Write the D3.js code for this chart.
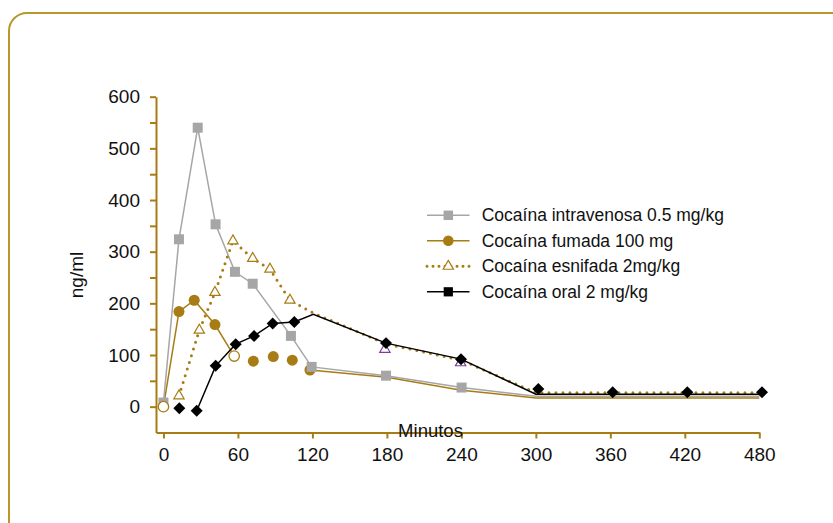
<!DOCTYPE html>
<html>
<head>
<meta charset="utf-8">
<script src="https://cdn.jsdelivr.net/npm/d3@7"></script>
<style>
  html, body { margin: 0; padding: 0; background: #fff; }
  svg { display: block; font-family: "Liberation Sans", Arial, Helvetica, sans-serif; }
</style>
</head>
<body>
<svg id="chart" width="833" height="523"></svg>
<script>
// ---------- DATA ----------
const xTicks = [0, 60, 120, 180, 240, 300, 360, 420, 480];
const yTicks = [0, 50, 100, 150, 200, 250, 300, 350, 400, 450, 500, 550, 600];
const yLabels = [0, 100, 200, 300, 400, 500, 600];

const seriesNames = [
  "Cocaína intravenosa 0.5 mg/kg",
  "Cocaína fumada 100 mg",
  "Cocaína esnifada 2mg/kg",
  "Cocaína oral 2 mg/kg"
];

// Intravenosa (gray squares)
const ivTime   = [0, 12.5, 27.6, 42, 57.6, 71.9, 102.7, 119.4, 179.3, 240.2];
const ivValue  = [8, 324, 540, 353, 261, 238, 137, 77, 60, 37];
const ivLineTime  = [0, 12.5, 27.6, 42, 57.6, 71.9, 102.7, 119.4, 179.3, 240.2, 300, 480];
const ivLineValue = [8, 324, 540, 353, 261, 238, 137, 77, 60, 37, 20, 20];

// Fumada (gold circles)
const fuTime   = [0, 12.5, 24.8, 41.5, 57, 72.4, 88.5, 103.8, 118];
const fuValue  = [0, 184, 206, 159, 98, 88, 97, 90, 71];
const fuHollow = [true, false, false, false, true, false, false, false, false];
const fuLine1Time  = [0, 12.5, 24.8, 41.5, 57];
const fuLine1Value = [0, 184, 206, 159, 98];
const fuLine2Time  = [118, 180, 240, 300, 480];
const fuLine2Value = [71, 57, 32, 17, 17];

// Esnifada (gold open triangles, dotted)
const esTime   = [12.5, 28.9, 41.5, 56, 71.9, 85.8, 101.9, 178.4, 239.4];
const esValue  = [21, 148, 221, 321, 287, 266, 206, 111, 85];
const esPurple = [false, false, false, false, false, false, false, true, true];
const esLineTime  = [12.5, 28.9, 41.5, 56, 71.9, 85.8, 101.9, 120, 180, 240, 300, 480];
const esLineValue = [21, 148, 221, 321, 287, 266, 206, 182, 121, 90, 27, 27];

// Oral (black diamonds)
const orTime   = [12.8, 26.8, 42.1, 58.2, 73, 88, 105.4, 179.3, 239.7, 302, 361.9, 422, 482.2];
const orValue  = [-3, -8, 79, 121, 137, 161, 164, 123, 92, 34, 28, 28, 28];
const orLineTime  = [26.8, 42.1, 58.2, 73, 88, 105.4, 120.7, 179.3, 239.7, 300, 480];
const orLineValue = [-8, 79, 121, 137, 161, 164, 179, 123, 92, 24, 24];

// ---------- STYLE ----------
const GOLD = "#A87C14";
const FRAME = "#B8972F";
const GRAY = "#A6A6A6";
const PURPLE = "#7A3E9D";
const TXT = "#111";

const svg = d3.select("#chart");

// Frame: top and left with rounded corner
svg.append("path")
  .attr("d", "M9,523 L9,31 A18,18 0 0 1 27,13 L833,13")
  .attr("fill", "none").attr("stroke", FRAME).attr("stroke-width", 2);

const x = d3.scaleLinear().domain([-6, 480]).range([156, 759.3]);
const y = d3.scaleLinear().domain([-50, 600]).range([432.5, 96.7]);

// Axes
const yAxis = d3.axisLeft(y).tickValues(yTicks).tickSize(6).tickSizeOuter(0).tickPadding(10)
  .tickFormat(d => yLabels.includes(d) ? String(d) : "");
const xAxis = d3.axisBottom(x).tickValues(xTicks).tickSize(6).tickSizeOuter(0).tickPadding(9)
  .tickFormat(d => String(d));

const gy = svg.append("g").attr("transform", `translate(${x(-6)},0)`).call(yAxis);
const gx = svg.append("g").attr("transform", `translate(0,${y(-50)})`).call(xAxis);
[gx, gy].forEach(g => {
  g.select(".domain").attr("stroke", GOLD).attr("stroke-width", 2);
  g.selectAll(".tick line").attr("stroke", GOLD).attr("stroke-width", 2);
  g.selectAll(".tick text").attr("fill", TXT).style("font-size", "19px")
    .style("font-family", '"Liberation Sans", Arial, Helvetica, sans-serif');
});

// Axis titles
svg.append("text").attr("x", 430.5).attr("y", 437).attr("text-anchor", "middle")
  .attr("fill", TXT).style("font-size", "18.5px").text("Minutos");
svg.append("text").attr("transform", "translate(83,275) rotate(-90)").attr("text-anchor", "middle")
  .attr("fill", TXT).style("font-size", "19px").text("ng/ml");

// Lines
const line = d3.line().x(d => x(d[0])).y(d => y(d[1]));
const zip = (a, b) => a.map((t, i) => [t, b[i]]);

svg.append("path").attr("d", line(zip(fuLine1Time, fuLine1Value)))
  .attr("fill", "none").attr("stroke", GOLD).attr("stroke-width", 1.5);
svg.append("path").attr("d", line(zip(fuLine2Time, fuLine2Value)))
  .attr("fill", "none").attr("stroke", GOLD).attr("stroke-width", 1.5);
svg.append("path").attr("d", line(zip(ivLineTime, ivLineValue)))
  .attr("fill", "none").attr("stroke", GRAY).attr("stroke-width", 1.5);
svg.append("path").attr("d", line(zip(esLineTime, esLineValue)))
  .attr("fill", "none").attr("stroke", GOLD).attr("stroke-width", 3)
  .attr("stroke-dasharray", "0 7").attr("stroke-linecap", "round");
svg.append("path").attr("d", line(zip(orLineTime, orLineValue)))
  .attr("fill", "none").attr("stroke", "#000").attr("stroke-width", 1.5);

// Markers
const sq = d3.symbol().type(d3.symbolSquare).size(100);
const tri = d3.symbol().type(d3.symbolTriangle).size(46);
const dia = d3.symbol().type(d3.symbolSquare).size(72);

const fu = zip(fuTime, fuValue).map((d, i) => ({ t: d[0], v: d[1], h: fuHollow[i] }));
svg.append("g").selectAll("circle").data(fu.filter(d => !d.h)).join("circle")
  .attr("cx", d => x(d.t)).attr("cy", d => y(d.v)).attr("r", 5.5).attr("fill", GOLD);

svg.append("g").selectAll("path").data(zip(ivTime, ivValue)).join("path")
  .attr("d", sq).attr("transform", d => `translate(${x(d[0])},${y(d[1])})`).attr("fill", GRAY);

svg.append("g").selectAll("circle").data(fu.filter(d => d.h)).join("circle")
  .attr("cx", d => x(d.t)).attr("cy", d => y(d.v)).attr("r", 5.2)
  .attr("fill", "#fff").attr("stroke", GOLD).attr("stroke-width", 1.3);

const es = zip(esTime, esValue).map((d, i) => ({ t: d[0], v: d[1], p: esPurple[i] }));
svg.append("g").selectAll("path").data(es).join("path")
  .attr("d", tri).attr("transform", d => `translate(${x(d.t)},${y(d.v)})`)
  .attr("fill", "#fff").attr("stroke", d => d.p ? PURPLE : GOLD).attr("stroke-width", 1.2);

svg.append("g").selectAll("path").data(zip(orTime, orValue)).join("path")
  .attr("d", dia).attr("transform", d => `translate(${x(d[0])},${y(d[1])}) rotate(45)`).attr("fill", "#000");

// Legend
const lx1 = 427, lx2 = 469.5, lmx = 448.3, ltx = 481.7;
const legY = [215.3, 240.8, 266.3, 291.8];
const leg = svg.append("g");
// 0 intravenosa
leg.append("line").attr("x1", lx1).attr("x2", lx2).attr("y1", legY[0]).attr("y2", legY[0])
  .attr("stroke", GRAY).attr("stroke-width", 1.5);
leg.append("path").attr("d", d3.symbol().type(d3.symbolSquare).size(90)())
  .attr("transform", `translate(${lmx},${legY[0]})`).attr("fill", GRAY);
// 1 fumada
leg.append("line").attr("x1", lx1).attr("x2", lx2).attr("y1", legY[1]).attr("y2", legY[1])
  .attr("stroke", GOLD).attr("stroke-width", 1.5);
leg.append("circle").attr("cx", lmx).attr("cy", legY[1]).attr("r", 5.3).attr("fill", GOLD);
// 2 esnifada
leg.append("line").attr("x1", lx1).attr("x2", lx2).attr("y1", legY[2]).attr("y2", legY[2])
  .attr("stroke", GOLD).attr("stroke-width", 3).attr("stroke-dasharray", "0 6").attr("stroke-linecap", "round");
leg.append("path").attr("d", tri()).attr("transform", `translate(${lmx},${legY[2]})`)
  .attr("fill", "#fff").attr("stroke", GOLD).attr("stroke-width", 1.2);
// 3 oral
leg.append("line").attr("x1", lx1).attr("x2", lx2).attr("y1", legY[3]).attr("y2", legY[3])
  .attr("stroke", "#000").attr("stroke-width", 1.5);
leg.append("path").attr("d", d3.symbol().type(d3.symbolSquare).size(85)())
  .attr("transform", `translate(${lmx},${legY[3]})`).attr("fill", "#000");

leg.selectAll("text.lt").data(seriesNames).join("text").attr("class", "lt")
  .attr("x", ltx).attr("y", (d, i) => legY[i]).attr("dy", "0.35em")
  .attr("fill", TXT).style("font-size", "17.5px").text(d => d);
</script>
</body>
</html>
